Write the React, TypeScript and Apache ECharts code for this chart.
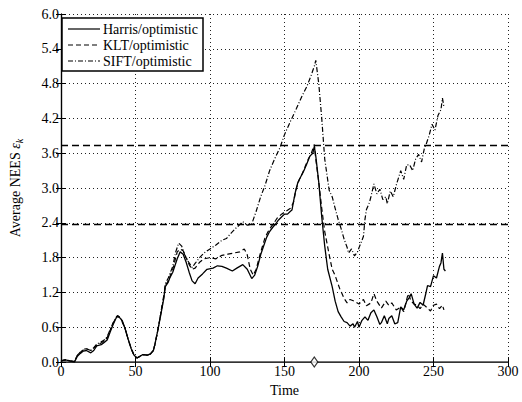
import React, { useEffect, useRef } from "react";
import * as echarts from "echarts";

const harris: number[][] = [[0,0.02],[3,0.04],[6,0.02],[9,0.0],[11,0.1],[13,0.15],[15,0.19],[17,0.2],[20,0.16],[22,0.2],[24,0.28],[27,0.3],[29,0.34],[31,0.38],[33,0.52],[35,0.65],[37,0.76],[38,0.79],[40,0.75],[41,0.72],[43,0.58],[45,0.4],[47,0.24],[49,0.12],[51,0.07],[53,0.1],[55,0.13],[58,0.12],[60,0.14],[62,0.2],[63,0.3],[65,0.55],[67,0.82],[69,1.1],[70,1.3],[72,1.38],[73,1.45],[75,1.55],[78,1.78],[80,1.9],[82,1.86],[84,1.72],[86,1.55],[88,1.4],[90,1.35],[92,1.45],[95,1.52],[98,1.6],[102,1.62],[105,1.66],[108,1.65],[111,1.62],[115,1.57],[118,1.62],[122,1.68],[125,1.6],[128,1.44],[130,1.5],[132,1.65],[134,1.85],[136,2.0],[138,2.15],[140,2.25],[142,2.32],[144,2.38],[146,2.45],[148,2.5],[150,2.55],[152,2.55],[154,2.6],[155,2.62],[157,2.9],[159,3.1],[161,3.2],[163,3.3],[165,3.42],[167,3.55],[169,3.6],[170,3.72],[171,3.55],[173,3.1],[175,2.5],[177,2.0],[179,1.6],[182,1.3],[184,1.05],[186,0.87],[188,0.78],[190,0.7],[192,0.68],[194,0.62],[196,0.66],[197,0.6],[199,0.7],[200,0.6],[202,0.72],[204,0.78],[206,0.72],[208,0.85],[210,0.9],[212,0.78],[214,0.65],[215,0.68],[217,0.8],[219,0.66],[220,0.75],[222,0.8],[224,0.66],[226,0.68],[228,0.95],[230,0.9],[232,1.05],[234,1.12],[235,1.18],[237,1.0],[239,0.93],[241,1.03],[243,0.98],[245,1.2],[246,1.32],[248,1.3],[250,1.49],[252,1.45],[254,1.65],[255,1.71],[256,1.88],[257,1.6],[258,1.57]];

const klt: number[][] = [[0,0.02],[3,0.04],[6,0.02],[9,0.01],[11,0.12],[13,0.17],[15,0.21],[17,0.23],[20,0.2],[22,0.24],[24,0.3],[27,0.33],[29,0.37],[31,0.42],[33,0.55],[35,0.67],[37,0.77],[38,0.8],[40,0.76],[43,0.58],[45,0.4],[47,0.24],[49,0.12],[51,0.07],[53,0.1],[55,0.13],[58,0.12],[60,0.14],[62,0.2],[63,0.3],[65,0.55],[67,0.84],[69,1.12],[70,1.32],[72,1.4],[75,1.6],[78,1.9],[80,1.95],[82,1.92],[84,1.8],[86,1.68],[88,1.6],[90,1.62],[93,1.72],[96,1.78],[100,1.8],[104,1.78],[108,1.84],[112,1.86],[116,1.88],[120,1.9],[123,1.95],[125,1.85],[127,1.6],[129,1.5],[131,1.6],[133,1.8],[135,1.98],[137,2.15],[139,2.25],[141,2.33],[143,2.4],[145,2.48],[148,2.55],[151,2.6],[154,2.65],[156,2.75],[158,3.0],[160,3.15],[162,3.25],[164,3.38],[166,3.5],[168,3.6],[170,3.75],[171,3.5],[173,3.1],[175,2.65],[177,2.25],[180,1.85],[182,1.6],[184,1.49],[187,1.27],[190,1.1],[192,1.02],[194,1.08],[197,1.05],[200,1.0],[203,1.08],[205,0.97],[208,1.02],[210,1.18],[212,1.05],[215,0.93],[218,1.05],[220,0.98],[222,1.02],[225,0.9],[228,0.95],[230,0.87],[233,1.18],[235,1.05],[237,1.0],[239,0.98],[241,0.92],[243,1.0],[246,0.93],[248,0.88],[250,0.98],[252,1.0],[254,0.92],[256,0.98],[257,0.9]];

const sift: number[][] = [[0,0.02],[3,0.04],[6,0.02],[9,0.01],[11,0.12],[13,0.17],[15,0.22],[17,0.23],[20,0.2],[22,0.25],[24,0.31],[27,0.35],[29,0.38],[31,0.44],[33,0.56],[35,0.68],[37,0.77],[38,0.8],[40,0.76],[43,0.58],[45,0.4],[47,0.24],[49,0.12],[51,0.07],[53,0.1],[55,0.13],[58,0.12],[60,0.14],[62,0.2],[63,0.3],[65,0.55],[67,0.85],[69,1.15],[70,1.35],[72,1.45],[75,1.65],[77,1.9],[79,2.05],[81,2.0],[83,1.85],[85,1.75],[88,1.63],[90,1.7],[93,1.8],[96,1.88],[100,1.95],[104,2.02],[108,2.1],[111,2.13],[114,2.22],[117,2.3],[120,2.37],[122,2.42],[125,2.36],[128,2.38],[131,2.6],[134,2.85],[137,3.05],[140,3.3],[143,3.48],[147,3.7],[150,3.92],[154,4.15],[158,4.37],[162,4.6],[165,4.75],[168,4.95],[170,5.1],[171,5.2],[173,4.8],[175,4.2],[177,3.5],[180,2.96],[182,2.85],[184,2.65],[186,2.46],[188,2.3],[190,2.12],[192,1.98],[193,1.88],[195,1.95],[197,1.83],[199,1.9],[200,1.97],[202,2.1],[203,2.17],[204,2.46],[205,2.63],[207,2.75],[208,2.85],[210,3.07],[212,2.9],[214,2.98],[216,2.8],[218,2.85],[219,2.73],[221,2.95],[223,2.85],[225,3.05],[228,3.3],[230,3.15],[232,3.4],[234,3.4],[236,3.3],[238,3.5],[240,3.58],[242,3.45],[244,3.7],[245,3.75],[247,3.9],[249,4.1],[251,4.0],[253,4.25],[255,4.35],[256,4.55],[257,4.4]];

const boundLines = [2.37, 3.74];
const marker = [[170, 0]];
const seriesNames = ["Harris/optimistic", "KLT/optimistic", "SIFT/optimistic"];
const legendDash: (number[] | null)[] = [null, [5, 3], [5, 2, 1, 2]];

const FONT = "'Liberation Serif', 'Times New Roman', serif";
const FS = 14;

export default function App() {
  const ref = useRef<HTMLDivElement>(null);
  useEffect(() => {
    const chart = echarts.init(ref.current!, null, { renderer: "svg" });
    const gridLine = { show: true, lineStyle: { color: "#222", type: [1, 3] as any, width: 1 } };
    const axisLabel = { color: "#000", fontFamily: FONT, fontSize: FS };

    const legendItems: any[] = [
      { type: "rect", shape: { x: 62, y: 18, width: 141, height: 53 }, style: { fill: "#fff", stroke: "#000", lineWidth: 1.5 } },
    ];
    seriesNames.forEach((n, i) => {
      const y = 29 + i * 16;
      legendItems.push({
        type: "line",
        shape: { x1: 68, y1: y, x2: 100, y2: y },
        style: { stroke: "#000", lineWidth: 1.2, lineDash: legendDash[i] || undefined },
      });
      legendItems.push({
        type: "text", x: 103, y, style: { text: n, fill: "#000", font: `${FS}px ${FONT}`, textVerticalAlign: "middle" },
      });
    });

    chart.setOption({
      animation: false,
      backgroundColor: "#fff",
      grid: { left: 57, right: 14, top: 14, bottom: 34 },
      graphic: legendItems.map((g) => ({ ...g, z: 100 })),
      xAxis: [
        {
          type: "value", min: 0, max: 300, interval: 50,
          name: "Time", nameLocation: "middle", nameGap: 18,
          nameTextStyle: { color: "#000", fontFamily: FONT, fontSize: FS },
          axisLine: { lineStyle: { color: "#000", width: 1.2 } },
          axisTick: { inside: true, length: 5, lineStyle: { color: "#000" } },
          axisLabel: { ...axisLabel, margin: 2 },
          splitLine: gridLine,
        },
        {
          type: "value", min: 0, max: 300, interval: 50, position: "top",
          axisLine: { show: true, lineStyle: { color: "#444", width: 1.5 } },
          axisTick: { show: true, inside: true, length: 5, lineStyle: { color: "#000" } },
          axisLabel: { show: false }, splitLine: { show: false },
        },
      ],
      yAxis: [
        {
          type: "value", min: 0, max: 6, interval: 0.6,
          name: "{a|Average NEES }{b|ε}{c|k}", nameLocation: "middle", nameGap: 37, nameRotate: 90,
          nameTextStyle: {
            color: "#000", fontFamily: FONT, fontSize: FS,
            rich: {
              a: { fontFamily: FONT, fontSize: FS, color: "#000" },
              b: { fontFamily: FONT, fontSize: FS, color: "#000", fontStyle: "italic" },
              c: { fontFamily: FONT, fontSize: 10, color: "#000", fontStyle: "italic", padding: [8, 0, 0, 0] },
            },
          },
          axisLine: { show: true, lineStyle: { color: "#000", width: 1.2 } },
          axisTick: { show: true, inside: true, length: 5, lineStyle: { color: "#000" } },
          axisLabel: { ...axisLabel, margin: 2, formatter: (v: number) => v.toFixed(1) },
          splitLine: gridLine,
        },
        {
          type: "value", min: 0, max: 6, interval: 0.6, position: "right",
          axisLine: { show: true, lineStyle: { color: "#000", width: 1.2 } },
          axisTick: { show: true, inside: true, length: 5, lineStyle: { color: "#000" } },
          axisLabel: { show: false }, splitLine: { show: false },
        },
      ],
      series: [
        {
          name: seriesNames[0], type: "line", data: harris, symbol: "none",
          lineStyle: { color: "#000", width: 1.3, type: "solid" },
          markLine: {
            silent: true, symbol: "none", label: { show: false },
            lineStyle: { color: "#000", width: 1.3, type: [7, 4] },
            data: boundLines.map((v) => ({ yAxis: v })),
          },
        },
        {
          name: seriesNames[1], type: "line", data: klt, symbol: "none",
          lineStyle: { color: "#000", width: 1.2, type: [5, 3] },
        },
        {
          name: seriesNames[2], type: "line", data: sift, symbol: "none",
          lineStyle: { color: "#000", width: 1.2, type: [5, 2, 1, 2] },
        },
        {
          type: "scatter", data: marker, symbol: "diamond", symbolSize: [7, 10],
          itemStyle: { color: "#fff", borderColor: "#000", borderWidth: 1.2 },
          z: 5,
        },
      ],
    });
    return () => chart.dispose();
  }, []);
  return <div ref={ref} style={{ position: "absolute", left: 0, top: 0, width: 522, height: 402 }} />;
}
